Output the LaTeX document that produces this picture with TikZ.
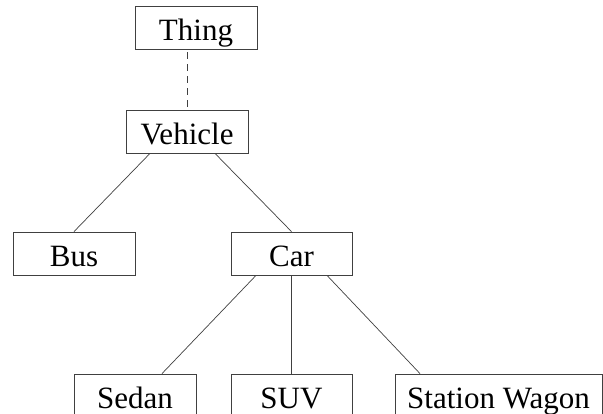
\documentclass[tikz,border=0pt]{standalone}
\usepackage{fontspec}
\setmainfont{Liberation Serif}
\usepackage{tikz}

\begin{document}
\begin{tikzpicture}[x=1pt, y=-1pt,
    box/.style={draw=black!75, line width=0.8pt, minimum width=122pt, minimum height=43pt,
        inner sep=0pt, text height=26pt, text depth=0pt, font=\fontsize{31}{36}\selectfont},
    link/.style={draw=black!75, line width=0.7pt}]
    \useasboundingbox (0,0) rectangle (603,414);
    \node[box] (thing) at (196, 27.5) {Thing};
    \node[box] (vehicle) at (187, 131.5) {Vehicle};
    \node[box] (bus) at (74, 253.5) {Bus};
    \node[box, minimum width=121pt] (car) at (291.5, 253.5) {Car};
    \node[box] (sedan) at (135, 395.5) {Sedan};
    \node[box, minimum width=121pt] (suv) at (291.5, 395.5) {SUV};
    \node[box, minimum width=207pt] (wagon) at (498.5, 395.5) {Station Wagon};

    \draw[link, dash pattern=on 7pt off 5pt, dash phase=-3pt] (vehicle.north |- thing.south) -- (vehicle.north);
    \draw[link] ([xshift=-37pt]vehicle.south) -- (bus.north);
    \draw[link] ([xshift=28pt]vehicle.south) -- (car.north);
    %\draw (car.south) -- (sedan.north);
    \draw[link] ([xshift=-35.5pt]car.south) -- ([xshift=27pt]sedan.north);
    \draw[link] (car.south) -- (suv.north);
    \draw[link] ([xshift=35.5pt]car.south) -- ([xshift=-78.5pt]wagon.north);
\end{tikzpicture}
\end{document}
